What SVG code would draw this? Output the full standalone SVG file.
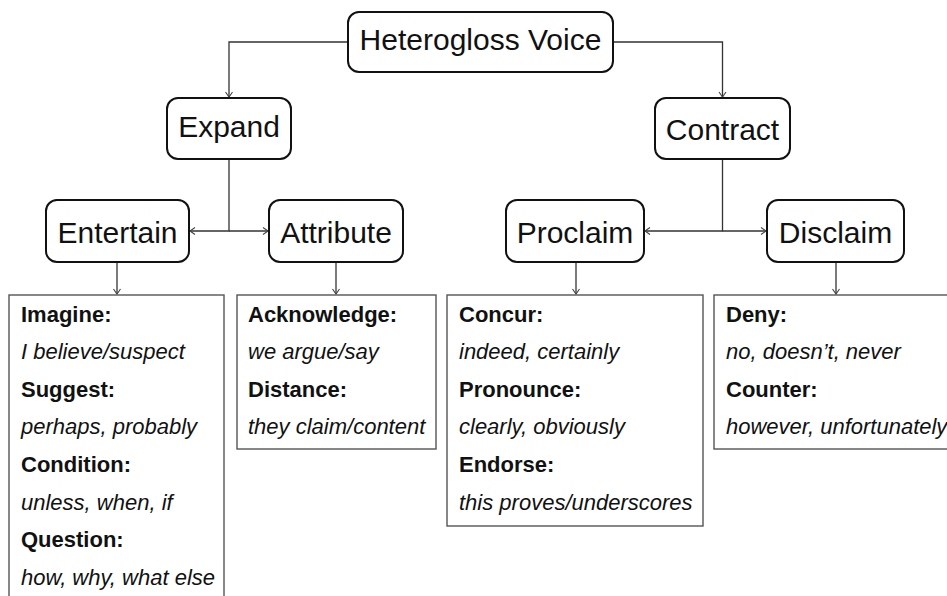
<svg xmlns="http://www.w3.org/2000/svg" width="947" height="596" viewBox="0 0 947 596">
<defs>
<marker id="arr" markerWidth="12" markerHeight="12" refX="10" refY="6" orient="auto" markerUnits="userSpaceOnUse">
<path d="M5,2.5 L10,6 L5,9.5" fill="none" stroke="#444" stroke-width="1.1"/>
</marker>
</defs>
<style>
.node rect{fill:#fff;stroke:#111;stroke-width:2}
.node text{font-family:"Liberation Sans",Arial,sans-serif;font-size:30px;fill:#111;text-anchor:middle}
.list rect{fill:#fff;stroke:#555;stroke-width:1.4}
.list text{font-family:"Liberation Sans",Arial,sans-serif;font-size:22px;fill:#111}
.list .h{font-weight:bold}
.list .e{font-style:italic}
.conn path{fill:none;stroke:#333;stroke-width:1.3;marker-end:url(#arr)}
</style>
<rect width="947" height="596" fill="#fff"/>
<g class="conn">
<path d="M348,42 H229 V97"/>
<path d="M613,42 H722.5 V97"/>
<path d="M229,159 V231 H190"/>
<path d="M229,231 H268"/>
<path d="M722.5,159 V231 H645"/>
<path d="M722.5,231 H766"/>
<path d="M117,262 V294"/>
<path d="M336,262 V294"/>
<path d="M576,262 V294"/>
<path d="M836,262 V294"/>
</g>
<g id="heterogloss" class="node"><rect x="348" y="12" width="265" height="60" rx="11"/><text x="480.5" y="50">Heterogloss Voice</text></g>
<g id="expand" class="node"><rect x="167" y="98" width="124" height="61" rx="11"/><text x="229" y="137">Expand</text></g>
<g id="contract" class="node"><rect x="655" y="98" width="135" height="61" rx="11"/><text x="722.5" y="140">Contract</text></g>
<g id="entertain" class="node"><rect x="46" y="200" width="143" height="62" rx="11"/><text x="117.5" y="243">Entertain</text></g>
<g id="attribute" class="node"><rect x="269" y="200" width="134" height="62" rx="11"/><text x="336" y="243">Attribute</text></g>
<g id="proclaim" class="node"><rect x="506" y="200" width="138" height="62" rx="11"/><text x="575" y="243">Proclaim</text></g>
<g id="disclaim" class="node"><rect x="767" y="200" width="137" height="62" rx="11"/><text x="835.5" y="243">Disclaim</text></g>
<g id="entertain-list" class="list"><rect x="9" y="295" width="215" height="310"/>
<text x="21" y="321.5" class="h">Imagine:</text>
<text x="21" y="359" class="e">I believe/suspect</text>
<text x="21" y="396.7" class="h">Suggest:</text>
<text x="21" y="434.3" class="e">perhaps, probably</text>
<text x="21" y="472" class="h">Condition:</text>
<text x="21" y="509.6" class="e">unless, when, if</text>
<text x="21" y="547.2" class="h">Question:</text>
<text x="21" y="584.8" class="e">how, why, what else</text>
</g>
<g id="attribute-list" class="list"><rect x="237" y="295" width="199" height="154"/>
<text x="248" y="321.5" class="h">Acknowledge:</text>
<text x="248" y="359" class="e">we argue/say</text>
<text x="248" y="396.7" class="h">Distance:</text>
<text x="248" y="434.3" class="e">they claim/content</text>
</g>
<g id="proclaim-list" class="list"><rect x="447" y="295" width="256" height="231"/>
<text x="459" y="321.5" class="h">Concur:</text>
<text x="459" y="359" class="e">indeed, certainly</text>
<text x="459" y="396.7" class="h">Pronounce:</text>
<text x="459" y="434.3" class="e">clearly, obviously</text>
<text x="459" y="472" class="h">Endorse:</text>
<text x="459" y="509.6" class="e">this proves/underscores</text>
</g>
<g id="disclaim-list" class="list"><rect x="714" y="295" width="250" height="154"/>
<text x="726" y="321.5" class="h">Deny:</text>
<text x="726" y="359" class="e">no, doesn’t, never</text>
<text x="726" y="396.7" class="h">Counter:</text>
<text x="726" y="434.3" class="e">however, unfortunately</text>
</g>
</svg>
